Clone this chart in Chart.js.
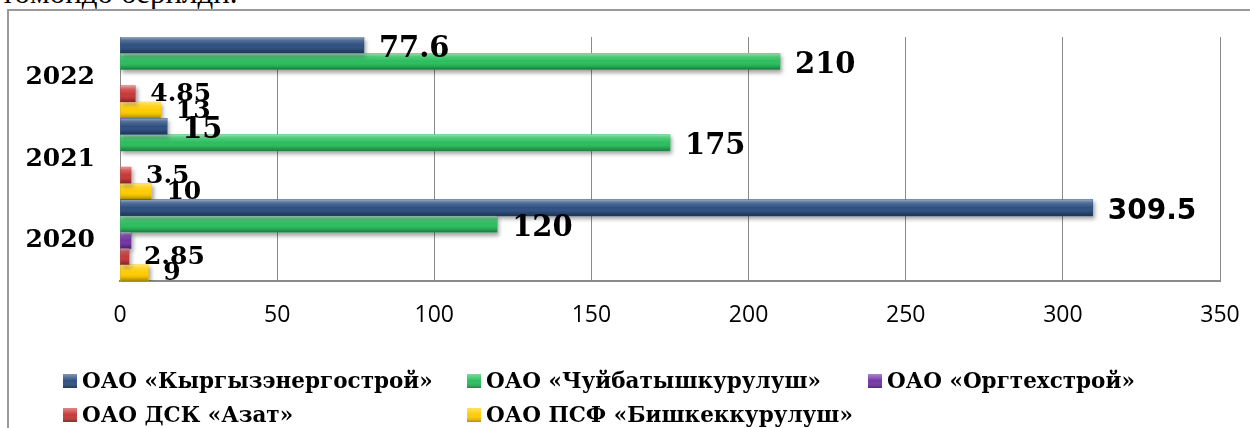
<!DOCTYPE html>
<html>
<head>
<meta charset="utf-8">
<script src="https://cdn.jsdelivr.net/npm/chart.js"></script>
<style>
  html, body { margin: 0; padding: 0; background: #fff; overflow: hidden; }
  body { width: 1250px; height: 428px; position: relative; }
  #zag { position: absolute; left: 1px; top: -23px; font: 31px/31px "Liberation Serif", serif; white-space: nowrap; color: #000; }
  #ramka { position: absolute; left: 7px; top: 9px; width: 1300px; height: 500px; border: 2px solid #9a9a9a; box-sizing: border-box; }
  #wrap { position: absolute; left: 0; top: 0; width: 1250px; height: 428px; }
</style>
</head>
<body>
<div id="zag">төмөндө берилди.</div>
<div id="ramka"></div>
<div id="wrap"><canvas id="grafik" width="1250" height="428"></canvas></div>
<script>
  const godY = ['2022', '2021', '2020'];
  const kyrgyzEnergo = [77.6, 15, 309.5];
  const chuiBatysh = [210, 175, 120];
  const orgtekh = [null, null, 3.5];
  const dskAzat = [4.85, 3.5, 2.85];
  const bishkekKurulush = [13, 10, 9];
  const xTiki = [0, 50, 100, 150, 200, 250, 300, 350];

  const serif = '"DejaVu Serif", serif';

  // тень под столбиками и блик сверху
  const ten = {
    id: 'ten',
    beforeDatasetsDraw(chart) {
      const c = chart.ctx;
      c.save();
      c.shadowColor = 'rgba(0,0,0,0.35)';
      c.shadowBlur = 4;
      c.shadowOffsetX = 2;
      c.shadowOffsetY = 3;
    },
    afterDatasetsDraw(chart) {
      const c = chart.ctx;
      c.restore();
      chart.data.datasets.forEach((ds, i) => {
        chart.getDatasetMeta(i).data.forEach((bar, j) => {
          if (!ds.data[j]) return;
          const top = bar.y - bar.height / 2;
          const h = bar.height;
          const g = c.createLinearGradient(0, top, 0, top + h);
          g.addColorStop(0, 'rgba(255,255,255,0.5)');
          g.addColorStop(0.2, 'rgba(255,255,255,0.18)');
          g.addColorStop(0.5, 'rgba(255,255,255,0)');
          g.addColorStop(0.8, 'rgba(0,0,0,0.12)');
          g.addColorStop(1, 'rgba(0,0,0,0.35)');
          c.fillStyle = g;
          c.fillRect(bar.base, top, bar.x - bar.base, h);
        });
      });
    }
  };

  // подписи значений
  const podpisi = {
    id: 'podpisi',
    afterDatasetsDraw(chart) {
      const c = chart.ctx;
      c.save();
      c.fillStyle = '#000';
      c.textBaseline = 'middle';
      c.textAlign = 'left';
      chart.data.datasets.forEach((ds, i) => {
        if (!ds.podpis) return;
        const big = ds.podpis === 'big';
        chart.getDatasetMeta(i).data.forEach((bar, j) => {
          const v = ds.data[j];
          if (v == null) return;
          let font = big ? 'bold 29px ' + serif : 'bold 25px ' + serif;
          if (v > 300) font = 'bold 28px "DejaVu Sans", sans-serif';
          c.font = font;
          c.fillText(String(v), bar.x + 15, bar.y + (big ? 4 : 1));
        });
      });
      c.restore();
    }
  };

  // легенда в две строки по колонкам
  const legenda = {
    id: 'legenda',
    afterDraw(chart) {
      const c = chart.ctx;
      const kol = [63, 467, 868];
      const str = [381, 415];
      c.save();
      c.font = 'bold 21.5px ' + serif;
      c.textBaseline = 'middle';
      chart.data.datasets.forEach((ds, i) => {
        const x = kol[i % 3], y = str[Math.floor(i / 3)];
        c.fillStyle = ds.backgroundColor;
        c.fillRect(x, y - 7, 14, 14);
        const g = c.createLinearGradient(0, y - 7, 0, y + 7);
        g.addColorStop(0, 'rgba(255,255,255,0.4)');
        g.addColorStop(0.5, 'rgba(255,255,255,0)');
        g.addColorStop(1, 'rgba(0,0,0,0.3)');
        c.fillStyle = g;
        c.fillRect(x, y - 7, 14, 14);
        c.fillStyle = '#000';
        c.fillText(ds.label, x + 19, y + 1);
      });
      c.restore();
    }
  };

  new Chart(document.getElementById('grafik'), {
    type: 'bar',
    data: {
      labels: godY,
      datasets: [
        { label: 'ОАО «Кыргызэнергострой»', data: kyrgyzEnergo, backgroundColor: '#2D4F80', podpis: 'big' },
        { label: 'ОАО «Чуйбатышкурулуш»', data: chuiBatysh, backgroundColor: '#2BBE5E', podpis: 'big' },
        { label: 'ОАО «Оргтехстрой»', data: orgtekh, backgroundColor: '#7434A6', podpis: null },
        { label: 'ОАО ДСК «Азат»', data: dskAzat, backgroundColor: '#C73838', podpis: 'small' },
        { label: 'ОАО ПСФ «Бишкеккурулуш»', data: bishkekKurulush, backgroundColor: '#FFCC00', podpis: 'small' }
      ]
    },
    options: {
      indexAxis: 'y',
      responsive: false,
      animation: false,
      devicePixelRatio: 1,
      layout: { padding: { top: 37, right: 30, left: 0, bottom: 0 } },
      datasets: { bar: { categoryPercentage: 1, barPercentage: 1, borderWidth: 0 } },
      plugins: { legend: { display: false }, tooltip: { enabled: false } },
      scales: {
        x: {
          min: 0,
          max: 350,
          afterFit: s => { s.height = 147; s.paddingLeft = 0; s.paddingRight = 0; },
          afterBuildTicks: s => { s.ticks = xTiki.map(v => ({ value: v })); },
          grid: { color: '#8a8a8a', lineWidth: 1, drawTicks: false },
          border: { display: true, color: '#8a8a8a', width: 2 },
          ticks: { padding: 21, color: '#000', font: { family: '"Open Sans", sans-serif', size: 23 } }
        },
        y: {
          afterFit: s => { s.width = 120; s.paddingTop = 0; s.paddingBottom = 0; },
          grid: { display: false, drawTicks: false },
          border: { display: true, color: '#8a8a8a', width: 1 },
          ticks: { padding: 25, color: '#000', font: { family: serif, size: 25, weight: 'bold' } }
        }
      }
    },
    plugins: [ten, podpisi, legenda]
  });
</script>
</body>
</html>
